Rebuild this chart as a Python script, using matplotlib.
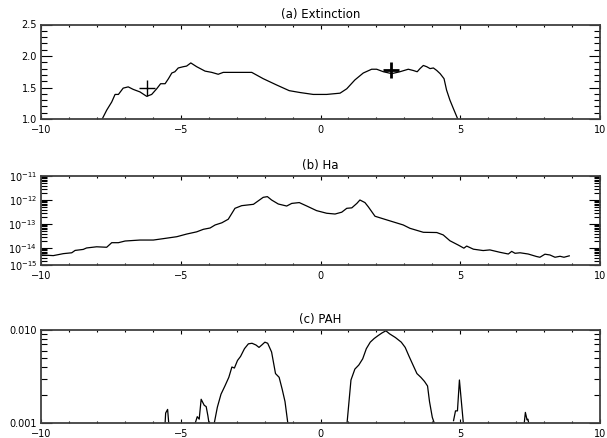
import numpy as np
import matplotlib
matplotlib.use("Agg")
import matplotlib.pyplot as plt
from matplotlib.ticker import MultipleLocator, FixedLocator, FixedFormatter, LogLocator, NullFormatter

plt.rcParams['font.family'] = ['DejaVu Sans']

# ---------------- data ----------------
titles = ["(a) Extinction", "(b) Ha", "(c) PAH"]
x_ticks = [-10, -5, 0, 5, 10]
x_ticklabels = ["\u221210", "\u22125", "0", "5", "10"]

ext_x = [-7.81, -7.65, -7.47, -7.35, -7.23, -7.06, -6.88, -6.70, -6.46, -6.22, -6.04, -5.86,
         -5.72, -5.56, -5.44, -5.32, -5.21, -5.09, -4.91, -4.79, -4.64, -4.43, -4.13, -3.89,
         -3.66, -3.48, -3.00, -2.46, -2.05, -1.57, -1.12, -0.73, -0.26, 0.22, 0.70, 0.94,
         1.23, 1.53, 1.83, 2.01, 2.25, 2.55, 2.84, 3.14, 3.32, 3.46, 3.56, 3.68, 3.80, 3.92,
         4.04, 4.16, 4.28, 4.42, 4.51, 4.63, 4.75, 4.91]
ext_y = [1.00, 1.14, 1.27, 1.39, 1.39, 1.49, 1.51, 1.47, 1.43, 1.36, 1.39, 1.48,
         1.56, 1.56, 1.64, 1.73, 1.75, 1.81, 1.83, 1.84, 1.89, 1.83, 1.76, 1.74,
         1.71, 1.74, 1.74, 1.74, 1.64, 1.54, 1.45, 1.42, 1.39, 1.39, 1.41, 1.48,
         1.62, 1.73, 1.79, 1.79, 1.75, 1.72, 1.75, 1.79, 1.77, 1.75, 1.80, 1.85, 1.83, 1.80,
         1.81, 1.77, 1.72, 1.64, 1.46, 1.30, 1.17, 1.00]
cross_x = [-6.20, 2.52]
cross_y = [1.485, 1.785]
cross_width = [1.0, 2.0]

ha_x = [-9.98, -9.56, -9.20, -8.90, -8.78, -8.49, -8.37, -8.01, -7.65, -7.47, -7.23, -6.99,
        -6.46, -5.98, -5.62, -5.14, -4.79, -4.43, -4.19, -3.95, -3.77, -3.53, -3.30, -3.06,
        -2.82, -2.40, -2.05, -1.90, -1.75, -1.51, -1.21, -1.03, -0.76, -0.49, -0.14, 0.22,
        0.52, 0.76, 0.94, 1.12, 1.30, 1.41, 1.59, 1.71, 1.95, 2.37, 2.96, 3.20, 3.68, 4.16,
        4.39, 4.63, 4.93, 5.13, 5.23, 5.47, 5.82, 6.06, 6.42, 6.72, 6.84, 6.96, 7.14, 7.43,
        7.73, 7.85, 8.03, 8.21, 8.39, 8.57, 8.71, 8.90]
ha_y = [5.1e-15, 4.8e-15, 5.8e-15, 6.3e-15, 7.9e-15, 8.7e-15, 1.0e-14, 1.12e-14, 1.07e-14,
        1.66e-14, 1.66e-14, 1.95e-14, 2.14e-14, 2.14e-14, 2.45e-14, 2.95e-14, 3.8e-14,
        4.7e-14, 6.0e-14, 6.8e-14, 9.1e-14, 1.12e-13, 1.58e-13, 4.5e-13, 5.8e-13, 6.6e-13,
        1.29e-12, 1.38e-12, 1.0e-12, 6.8e-13, 5.6e-13, 7.2e-13, 7.8e-13, 5.6e-13, 3.6e-13,
        2.8e-13, 2.6e-13, 3.1e-13, 4.5e-13, 4.7e-13, 7.2e-13, 1.0e-12, 7.8e-13, 5.2e-13,
        2.1e-13, 1.48e-13, 9.1e-14, 6.6e-14, 4.5e-14, 4.4e-14, 3.5e-14, 2.0e-14, 1.32e-14,
        9.8e-15, 1.2e-14, 8.9e-15, 7.8e-15, 8.3e-15, 6.6e-15, 5.6e-15, 7.2e-15, 6.0e-15,
        6.3e-15, 5.6e-15, 4.4e-15, 4.1e-15, 5.5e-15, 5.1e-15, 4.1e-15, 4.5e-15, 4.1e-15,
        4.7e-15]
ha_yticks = [10**-14.71, 1e-14, 1e-13, 1e-12, 1e-11]
ha_yticklabels = [r"$10^{-15}$", r"$10^{-14}$", r"$10^{-13}$", r"$10^{-12}$", r"$10^{-11}$"]

nan = float("nan")
pah_x = [-5.56, -5.54, -5.47, -5.43, nan,
         -4.48, -4.41, -4.34, -4.27, -4.16, -4.09, -4.03, -3.99, nan,
         -3.80, -3.69, -3.56, -3.42, -3.28, -3.17, -3.08, -2.97, -2.86, -2.72, -2.58, -2.45,
         -2.31, -2.20, -2.10, -1.99, -1.89, -1.75, -1.61, -1.48, -1.37, -1.27, -1.17, nan,
         0.95, 1.09, 1.23, 1.37, 1.51, 1.64, 1.78, 1.92, 2.06, 2.20, 2.34, 2.47, 2.68, 2.89,
         3.03, 3.17, 3.31, 3.45, 3.59, 3.72, 3.83, 3.90, 4.00, 4.07, nan,
         4.76, 4.83, 4.90, 4.97, 5.04, 5.11, nan,
         7.29, 7.33, 7.39, 7.42, 7.45]
pah_y = [0.0010, 0.00128, 0.0014, 0.0010, nan,
         0.0010, 0.00117, 0.0011, 0.0018, 0.00155, 0.0015, 0.0012, 0.0010, nan,
         0.0010, 0.00148, 0.00204, 0.0025, 0.0031, 0.0040, 0.0039, 0.0047, 0.0052, 0.0063,
         0.0071, 0.0072, 0.0069, 0.0065, 0.0069, 0.0074, 0.0072, 0.0058, 0.0034, 0.0031,
         0.0023, 0.0017, 0.0010, nan,
         0.0010, 0.0029, 0.0038, 0.0042, 0.0049, 0.0063, 0.0074, 0.0081, 0.0087, 0.0093,
         0.0098, 0.0091, 0.0083, 0.0074, 0.0065, 0.0052, 0.0042, 0.0034, 0.0031, 0.0028,
         0.0025, 0.0017, 0.00115, 0.0010, nan,
         0.00106, 0.00135, 0.00135, 0.0029, 0.0017, 0.0010, nan,
         0.0010, 0.0013, 0.00108, 0.0011, 0.0010]
pah_yticks = [0.001, 0.010]
pah_yticklabels = ["0.001", "0.010"]

# ---------------- figure ----------------
W, H = 607, 438
fig = plt.figure(figsize=(W / 100, H / 100), dpi=100)

left = 41 / W
width = (600 - 41) / W
boxes = [(24.5, 119), (176, 265), (330, 423)]
axes = []
for top, bot in boxes:
    ax = fig.add_axes([left, 1 - bot / H, width, (bot - top) / H])
    axes.append(ax)

spine_color = "#404040"
tick_fs = 7
for ax, t in zip(axes, titles):
    ax.set_xlim(-10, 10)
    ax.set_xticks(x_ticks)
    ax.set_xticklabels(x_ticklabels)
    ax.xaxis.set_minor_locator(MultipleLocator(1))
    ax.tick_params(axis='x', which='major', direction='in', length=3, width=0.8,
                   top=True, bottom=True, labelsize=tick_fs, pad=4)
    ax.tick_params(axis='x', which='minor', direction='in', length=1.5, width=0.8,
                   top=True, bottom=True)
    ax.tick_params(axis='y', which='major', direction='in', length=8, width=0.8,
                   left=True, right=True, labelsize=tick_fs, pad=3)
    ax.tick_params(axis='y', which='minor', direction='in', length=4, width=0.8,
                   left=True, right=True)
    for s in ax.spines.values():
        s.set_color(spine_color)
        s.set_linewidth(1.3)
    ax.set_title(t, fontsize=8.5, pad=5)

# (a) Extinction
ax = axes[0]
ax.plot(ext_x, ext_y, color='black', lw=0.9)
for cx, cy, cw in zip(cross_x, cross_y, cross_width):
    ax.plot([cx], [cy], marker='+', markersize=12, mew=cw, color='black', linestyle='none')
ax.set_ylim(1.0, 2.5)
ax.yaxis.set_major_locator(MultipleLocator(0.5))
ax.yaxis.set_minor_locator(MultipleLocator(0.1))
ax.yaxis.set_major_formatter(matplotlib.ticker.FormatStrFormatter('%.1f'))

# (b) Ha
ax = axes[1]
ax.plot(ha_x, ha_y, color='black', lw=0.9)
ax.set_yscale('log')
ax.set_ylim(ha_yticks[0], ha_yticks[-1])
ax.yaxis.set_major_locator(FixedLocator(ha_yticks))
ax.yaxis.set_major_formatter(FixedFormatter(ha_yticklabels))
ax.yaxis.set_minor_locator(LogLocator(base=10, subs=np.arange(2, 10), numticks=20))
ax.yaxis.set_minor_formatter(NullFormatter())

# (c) PAH
ax = axes[2]
ax.plot(pah_x, pah_y, color='black', lw=0.9)
ax.set_yscale('log')
ax.set_ylim(pah_yticks[0], pah_yticks[-1])
ax.yaxis.set_major_locator(FixedLocator(pah_yticks))
ax.yaxis.set_major_formatter(FixedFormatter(pah_yticklabels))
ax.yaxis.set_minor_locator(LogLocator(base=10, subs=np.arange(2, 10), numticks=20))
ax.yaxis.set_minor_formatter(NullFormatter())

fig.savefig("out.png", dpi=100)
